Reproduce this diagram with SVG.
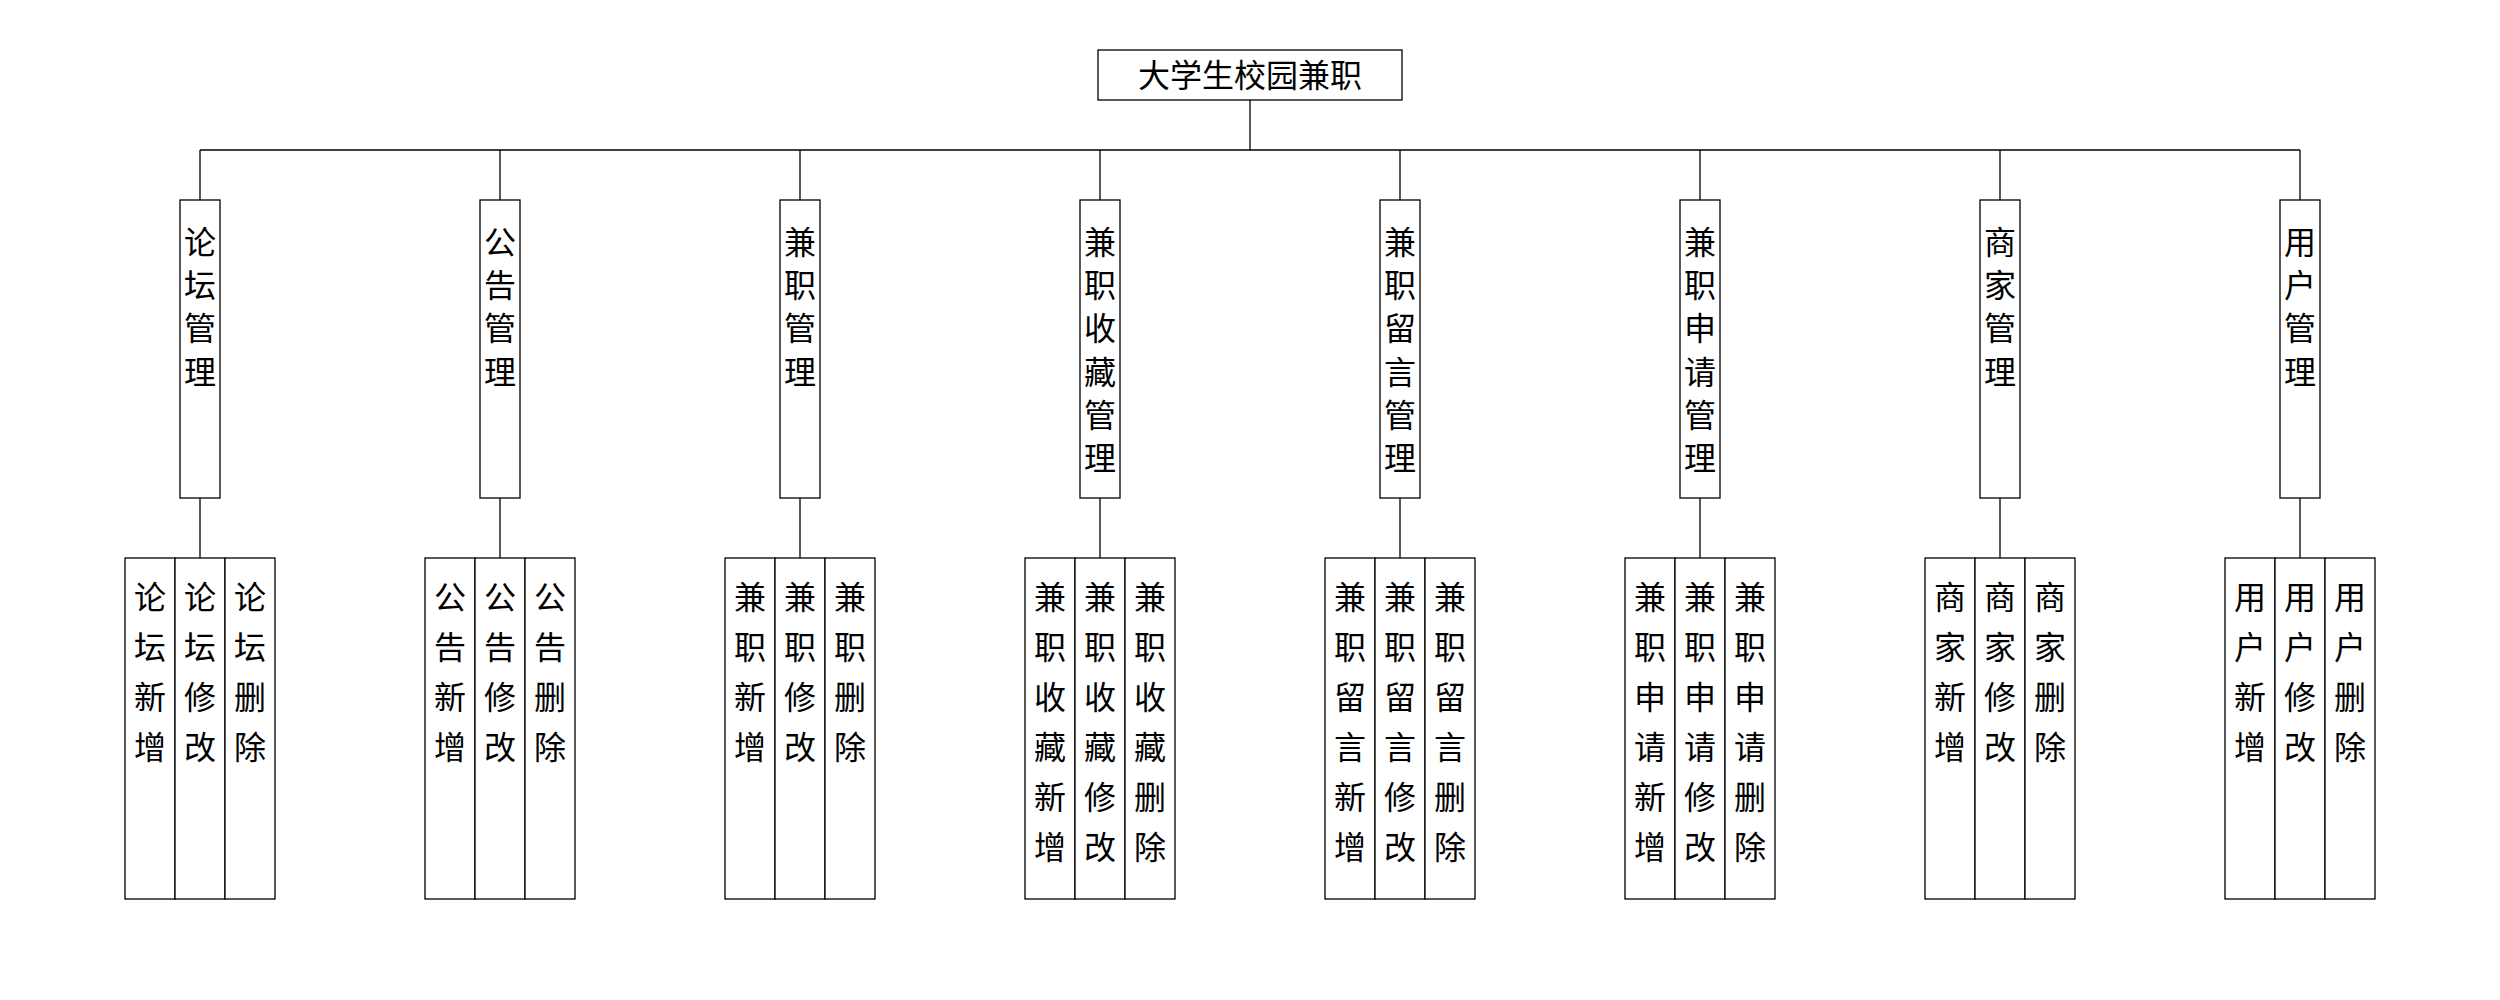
<svg xmlns="http://www.w3.org/2000/svg" width="2500" height="1000" viewBox="0 0 2500 1000">
<style>
rect{fill:#fff;stroke:#000;stroke-width:1.3}
line{stroke:#000;stroke-width:1.3}
text{font-family:"Noto Sans CJK SC","Noto Sans CJK JP",sans-serif;font-size:32px;fill:#000;text-anchor:middle}
</style>
<rect x="0" y="0" width="2500" height="1000" style="stroke:none"/>
<g id="connectors">
<line x1="1250" y1="100" x2="1250" y2="150"/>
<line x1="200" y1="150" x2="2300" y2="150"/>
<line x1="200" y1="150" x2="200" y2="200"/><line x1="200" y1="498" x2="200" y2="558"/>
<line x1="500" y1="150" x2="500" y2="200"/><line x1="500" y1="498" x2="500" y2="558"/>
<line x1="800" y1="150" x2="800" y2="200"/><line x1="800" y1="498" x2="800" y2="558"/>
<line x1="1100" y1="150" x2="1100" y2="200"/><line x1="1100" y1="498" x2="1100" y2="558"/>
<line x1="1400" y1="150" x2="1400" y2="200"/><line x1="1400" y1="498" x2="1400" y2="558"/>
<line x1="1700" y1="150" x2="1700" y2="200"/><line x1="1700" y1="498" x2="1700" y2="558"/>
<line x1="2000" y1="150" x2="2000" y2="200"/><line x1="2000" y1="498" x2="2000" y2="558"/>
<line x1="2300" y1="150" x2="2300" y2="200"/><line x1="2300" y1="498" x2="2300" y2="558"/>
</g>
<g id="root"><rect x="1098" y="50" width="304" height="50"/><text x="1250" y="87">大学生校园兼职</text></g>

<g id="m1"><rect x="180" y="200" width="40" height="298"/><text><tspan x="200" y="253.7">论</tspan><tspan x="200" y="297">坛</tspan><tspan x="200" y="340.3">管</tspan><tspan x="200" y="383.7">理</tspan></text></g>
<g id="m2"><rect x="480" y="200" width="40" height="298"/><text><tspan x="500" y="253.7">公</tspan><tspan x="500" y="297">告</tspan><tspan x="500" y="340.3">管</tspan><tspan x="500" y="383.7">理</tspan></text></g>
<g id="m3"><rect x="780" y="200" width="40" height="298"/><text><tspan x="800" y="253.7">兼</tspan><tspan x="800" y="297">职</tspan><tspan x="800" y="340.3">管</tspan><tspan x="800" y="383.7">理</tspan></text></g>
<g id="m4"><rect x="1080" y="200" width="40" height="298"/><text><tspan x="1100" y="253.7">兼</tspan><tspan x="1100" y="297">职</tspan><tspan x="1100" y="340.3">收</tspan><tspan x="1100" y="383.7">藏</tspan><tspan x="1100" y="427">管</tspan><tspan x="1100" y="470.3">理</tspan></text></g>
<g id="m5"><rect x="1380" y="200" width="40" height="298"/><text><tspan x="1400" y="253.7">兼</tspan><tspan x="1400" y="297">职</tspan><tspan x="1400" y="340.3">留</tspan><tspan x="1400" y="383.7">言</tspan><tspan x="1400" y="427">管</tspan><tspan x="1400" y="470.3">理</tspan></text></g>
<g id="m6"><rect x="1680" y="200" width="40" height="298"/><text><tspan x="1700" y="253.7">兼</tspan><tspan x="1700" y="297">职</tspan><tspan x="1700" y="340.3">申</tspan><tspan x="1700" y="383.7">请</tspan><tspan x="1700" y="427">管</tspan><tspan x="1700" y="470.3">理</tspan></text></g>
<g id="m7"><rect x="1980" y="200" width="40" height="298"/><text><tspan x="2000" y="253.7">商</tspan><tspan x="2000" y="297">家</tspan><tspan x="2000" y="340.3">管</tspan><tspan x="2000" y="383.7">理</tspan></text></g>
<g id="m8"><rect x="2280" y="200" width="40" height="298"/><text><tspan x="2300" y="253.7">用</tspan><tspan x="2300" y="297">户</tspan><tspan x="2300" y="340.3">管</tspan><tspan x="2300" y="383.7">理</tspan></text></g>

<g id="m1a"><rect x="125" y="558" width="50" height="341"/><text><tspan x="150" y="608.7">论</tspan><tspan x="150" y="658.7">坛</tspan><tspan x="150" y="708.7">新</tspan><tspan x="150" y="758.7">增</tspan></text></g>
<g id="m1b"><rect x="175" y="558" width="50" height="341"/><text><tspan x="200" y="608.7">论</tspan><tspan x="200" y="658.7">坛</tspan><tspan x="200" y="708.7">修</tspan><tspan x="200" y="758.7">改</tspan></text></g>
<g id="m1c"><rect x="225" y="558" width="50" height="341"/><text><tspan x="250" y="608.7">论</tspan><tspan x="250" y="658.7">坛</tspan><tspan x="250" y="708.7">删</tspan><tspan x="250" y="758.7">除</tspan></text></g>

<g id="m2a"><rect x="425" y="558" width="50" height="341"/><text><tspan x="450" y="608.7">公</tspan><tspan x="450" y="658.7">告</tspan><tspan x="450" y="708.7">新</tspan><tspan x="450" y="758.7">增</tspan></text></g>
<g id="m2b"><rect x="475" y="558" width="50" height="341"/><text><tspan x="500" y="608.7">公</tspan><tspan x="500" y="658.7">告</tspan><tspan x="500" y="708.7">修</tspan><tspan x="500" y="758.7">改</tspan></text></g>
<g id="m2c"><rect x="525" y="558" width="50" height="341"/><text><tspan x="550" y="608.7">公</tspan><tspan x="550" y="658.7">告</tspan><tspan x="550" y="708.7">删</tspan><tspan x="550" y="758.7">除</tspan></text></g>

<g id="m3a"><rect x="725" y="558" width="50" height="341"/><text><tspan x="750" y="608.7">兼</tspan><tspan x="750" y="658.7">职</tspan><tspan x="750" y="708.7">新</tspan><tspan x="750" y="758.7">增</tspan></text></g>
<g id="m3b"><rect x="775" y="558" width="50" height="341"/><text><tspan x="800" y="608.7">兼</tspan><tspan x="800" y="658.7">职</tspan><tspan x="800" y="708.7">修</tspan><tspan x="800" y="758.7">改</tspan></text></g>
<g id="m3c"><rect x="825" y="558" width="50" height="341"/><text><tspan x="850" y="608.7">兼</tspan><tspan x="850" y="658.7">职</tspan><tspan x="850" y="708.7">删</tspan><tspan x="850" y="758.7">除</tspan></text></g>

<g id="m4a"><rect x="1025" y="558" width="50" height="341"/><text><tspan x="1050" y="608.7">兼</tspan><tspan x="1050" y="658.7">职</tspan><tspan x="1050" y="708.7">收</tspan><tspan x="1050" y="758.7">藏</tspan><tspan x="1050" y="808.7">新</tspan><tspan x="1050" y="858.7">增</tspan></text></g>
<g id="m4b"><rect x="1075" y="558" width="50" height="341"/><text><tspan x="1100" y="608.7">兼</tspan><tspan x="1100" y="658.7">职</tspan><tspan x="1100" y="708.7">收</tspan><tspan x="1100" y="758.7">藏</tspan><tspan x="1100" y="808.7">修</tspan><tspan x="1100" y="858.7">改</tspan></text></g>
<g id="m4c"><rect x="1125" y="558" width="50" height="341"/><text><tspan x="1150" y="608.7">兼</tspan><tspan x="1150" y="658.7">职</tspan><tspan x="1150" y="708.7">收</tspan><tspan x="1150" y="758.7">藏</tspan><tspan x="1150" y="808.7">删</tspan><tspan x="1150" y="858.7">除</tspan></text></g>

<g id="m5a"><rect x="1325" y="558" width="50" height="341"/><text><tspan x="1350" y="608.7">兼</tspan><tspan x="1350" y="658.7">职</tspan><tspan x="1350" y="708.7">留</tspan><tspan x="1350" y="758.7">言</tspan><tspan x="1350" y="808.7">新</tspan><tspan x="1350" y="858.7">增</tspan></text></g>
<g id="m5b"><rect x="1375" y="558" width="50" height="341"/><text><tspan x="1400" y="608.7">兼</tspan><tspan x="1400" y="658.7">职</tspan><tspan x="1400" y="708.7">留</tspan><tspan x="1400" y="758.7">言</tspan><tspan x="1400" y="808.7">修</tspan><tspan x="1400" y="858.7">改</tspan></text></g>
<g id="m5c"><rect x="1425" y="558" width="50" height="341"/><text><tspan x="1450" y="608.7">兼</tspan><tspan x="1450" y="658.7">职</tspan><tspan x="1450" y="708.7">留</tspan><tspan x="1450" y="758.7">言</tspan><tspan x="1450" y="808.7">删</tspan><tspan x="1450" y="858.7">除</tspan></text></g>

<g id="m6a"><rect x="1625" y="558" width="50" height="341"/><text><tspan x="1650" y="608.7">兼</tspan><tspan x="1650" y="658.7">职</tspan><tspan x="1650" y="708.7">申</tspan><tspan x="1650" y="758.7">请</tspan><tspan x="1650" y="808.7">新</tspan><tspan x="1650" y="858.7">增</tspan></text></g>
<g id="m6b"><rect x="1675" y="558" width="50" height="341"/><text><tspan x="1700" y="608.7">兼</tspan><tspan x="1700" y="658.7">职</tspan><tspan x="1700" y="708.7">申</tspan><tspan x="1700" y="758.7">请</tspan><tspan x="1700" y="808.7">修</tspan><tspan x="1700" y="858.7">改</tspan></text></g>
<g id="m6c"><rect x="1725" y="558" width="50" height="341"/><text><tspan x="1750" y="608.7">兼</tspan><tspan x="1750" y="658.7">职</tspan><tspan x="1750" y="708.7">申</tspan><tspan x="1750" y="758.7">请</tspan><tspan x="1750" y="808.7">删</tspan><tspan x="1750" y="858.7">除</tspan></text></g>

<g id="m7a"><rect x="1925" y="558" width="50" height="341"/><text><tspan x="1950" y="608.7">商</tspan><tspan x="1950" y="658.7">家</tspan><tspan x="1950" y="708.7">新</tspan><tspan x="1950" y="758.7">增</tspan></text></g>
<g id="m7b"><rect x="1975" y="558" width="50" height="341"/><text><tspan x="2000" y="608.7">商</tspan><tspan x="2000" y="658.7">家</tspan><tspan x="2000" y="708.7">修</tspan><tspan x="2000" y="758.7">改</tspan></text></g>
<g id="m7c"><rect x="2025" y="558" width="50" height="341"/><text><tspan x="2050" y="608.7">商</tspan><tspan x="2050" y="658.7">家</tspan><tspan x="2050" y="708.7">删</tspan><tspan x="2050" y="758.7">除</tspan></text></g>

<g id="m8a"><rect x="2225" y="558" width="50" height="341"/><text><tspan x="2250" y="608.7">用</tspan><tspan x="2250" y="658.7">户</tspan><tspan x="2250" y="708.7">新</tspan><tspan x="2250" y="758.7">增</tspan></text></g>
<g id="m8b"><rect x="2275" y="558" width="50" height="341"/><text><tspan x="2300" y="608.7">用</tspan><tspan x="2300" y="658.7">户</tspan><tspan x="2300" y="708.7">修</tspan><tspan x="2300" y="758.7">改</tspan></text></g>
<g id="m8c"><rect x="2325" y="558" width="50" height="341"/><text><tspan x="2350" y="608.7">用</tspan><tspan x="2350" y="658.7">户</tspan><tspan x="2350" y="708.7">删</tspan><tspan x="2350" y="758.7">除</tspan></text></g>
</svg>
